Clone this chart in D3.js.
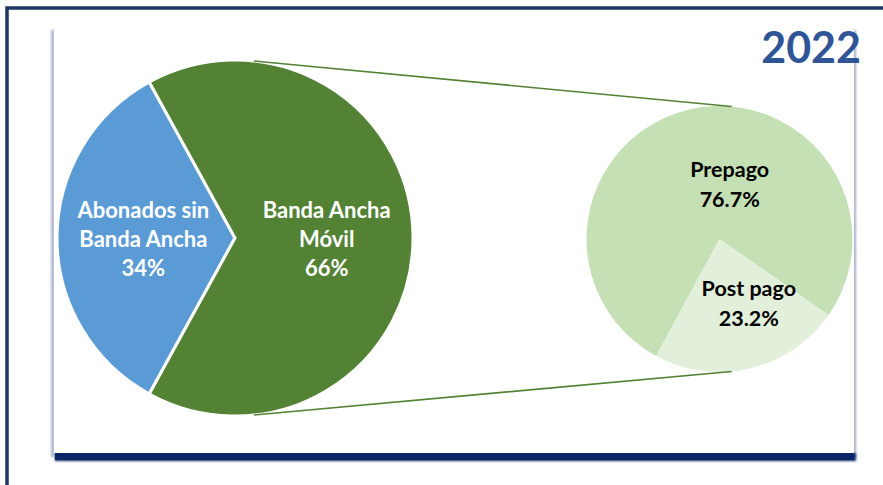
<!DOCTYPE html>
<html><head><meta charset="utf-8">
<script src="https://cdn.jsdelivr.net/npm/d3@7"></script>
<style>html,body{margin:0;padding:0;background:#fff;overflow:hidden}</style>
</head><body><svg id="c" width="883" height="485"></svg>
<script>
const title = "2022";
const mainCategories = ["Abonados sin Banda Ancha", "Banda Ancha Móvil"];
const mainLabelLines = [["Abonados sin", "Banda Ancha"], ["Banda Ancha", "Móvil"]];
const mainValues = [34, 66];
const mainColors = ["#5b9bd5", "#548235"];
const subCategories = ["Prepago", "Post pago"];
const subValues = [76.7, 23.2];
const subColors = ["#c5e0b4", "#e2efda"];

const svg = d3.select("#c");
const defs = svg.append("defs");
defs.append("filter").attr("id","blur").attr("x","-50%").attr("y","-50%").attr("width","200%").attr("height","200%")
  .append("feGaussianBlur").attr("stdDeviation",1.2);
const lg = defs.append("linearGradient").attr("id","lsh").attr("x1","0").attr("x2","1");
lg.append("stop").attr("offset","0").attr("stop-color","#ffffff");
lg.append("stop").attr("offset","1").attr("stop-color","#6f7aa6");

// outer frame
svg.append("rect").attr("x",7).attr("y",8).attr("width",900).attr("height",500)
  .attr("fill","#fff").attr("stroke","#1f3864").attr("stroke-width",3.5);

// inner panel with shadow
const px0 = 54, py0 = 30, px1 = 854, py1 = 453;
svg.append("rect").attr("x",px0-4).attr("y",py0).attr("width",4).attr("height",py1-py0+4)
  .attr("fill","url(#lsh)").attr("filter","url(#blur)");
svg.append("rect").attr("x",px1-1).attr("y",py0).attr("width",3).attr("height",py1-py0+4)
  .attr("fill","#a4acc8").attr("filter","url(#blur)");
svg.append("rect").attr("x",px0+1).attr("y",py1).attr("width",px1-px0+1).attr("height",8)
  .attr("fill","#0b2565").attr("filter","url(#blur)");
svg.append("rect").attr("x",px0).attr("y",py0).attr("width",px1-px0).attr("height",py1-py0).attr("fill","#fff");
svg.append("rect").attr("x",px0+1).attr("y",py1).attr("width",px1-px0-1).attr("height",7).attr("fill","#0b2565");

// main pie
const c1 = [235, 238], r1 = 178;
const c2 = [719.5, 239], r2 = 133;
const fr = Math.PI / 180;

const pie1 = d3.pie().sort(null).startAngle(-Math.PI/2 - Math.PI*0.34).endAngle(3*Math.PI/2 - Math.PI*0.34);
const arcs1 = pie1(mainValues);
const arc1 = d3.arc().innerRadius(0).outerRadius(r1);
const g1 = svg.append("g").attr("transform",`translate(${c1})`);
g1.selectAll("path").data(arcs1).join("path").attr("d",arc1)
  .attr("fill",(d,i)=>mainColors[i]).attr("stroke","#fff").attr("stroke-width",3).attr("stroke-linejoin","miter");

// secondary pie
const pie2 = d3.pie().sort(null).startAngle(-151.5*fr).endAngle(208.5*fr);
const arcs2 = pie2(subValues);
const arc2 = d3.arc().innerRadius(0).outerRadius(r2);
const g2 = svg.append("g").attr("transform",`translate(${c2})`);
g2.selectAll("path").data(arcs2).join("path").attr("d",arc2).attr("fill",(d,i)=>subColors[i]);

// connector lines
const a1 = 6.1*fr, a2 = 5.2*fr;
[[1,-1],[1,1]].forEach(([sx,sy])=>{
  svg.append("line")
    .attr("x1",c1[0]+r1*Math.sin(a1)).attr("y1",c1[1]+sy*r1*Math.cos(a1))
    .attr("x2",c2[0]+r2*Math.sin(a2)).attr("y2",c2[1]+sy*r2*Math.cos(a2))
    .attr("stroke","#548235").attr("stroke-width",1.6);
});

// main labels
const lab1 = d3.arc().innerRadius(0).outerRadius(r1*1.03);
arcs1.forEach((d,i)=>{
  const [x,y] = lab1.centroid(d);
  const lines = mainLabelLines[i].concat([mainValues[i] + "%"]);
  const t = g1.append("text").attr("text-anchor","middle").attr("fill","#fff")
    .attr("font-family","Lato, 'Noto Sans', sans-serif").attr("font-weight","bold").attr("font-size",22);
  lines.forEach((s,k)=>t.append("tspan").attr("x",x).attr("y",y - 20 + k*29).text(s));
});

// secondary labels
const subOffsets = [[25.5, 3], [14, -8]];
const lab2 = d3.arc().innerRadius(0).outerRadius(r2);
arcs2.forEach((d,i)=>{
  const [x0,y0] = lab2.centroid(d);
  const x = x0 + subOffsets[i][0], y = y0 + subOffsets[i][1];
  const t = g2.append("text").attr("text-anchor","middle").attr("fill","#000")
    .attr("font-family","Lato, 'Noto Sans', sans-serif").attr("font-weight","bold").attr("font-size",21.5);
  [subCategories[i], d3.format(".1f")(subValues[i]) + "%"].forEach((s,k)=>
    t.append("tspan").attr("x",x).attr("y",y + k*30).text(s));
});

// title
svg.append("text").attr("x",861).attr("y",63).attr("text-anchor","end")
  .attr("font-family","Lato, 'Noto Sans', sans-serif").attr("font-weight","bold").attr("font-size",43)
  .attr("fill","#2f5597").text(title);
</script></body></html>
